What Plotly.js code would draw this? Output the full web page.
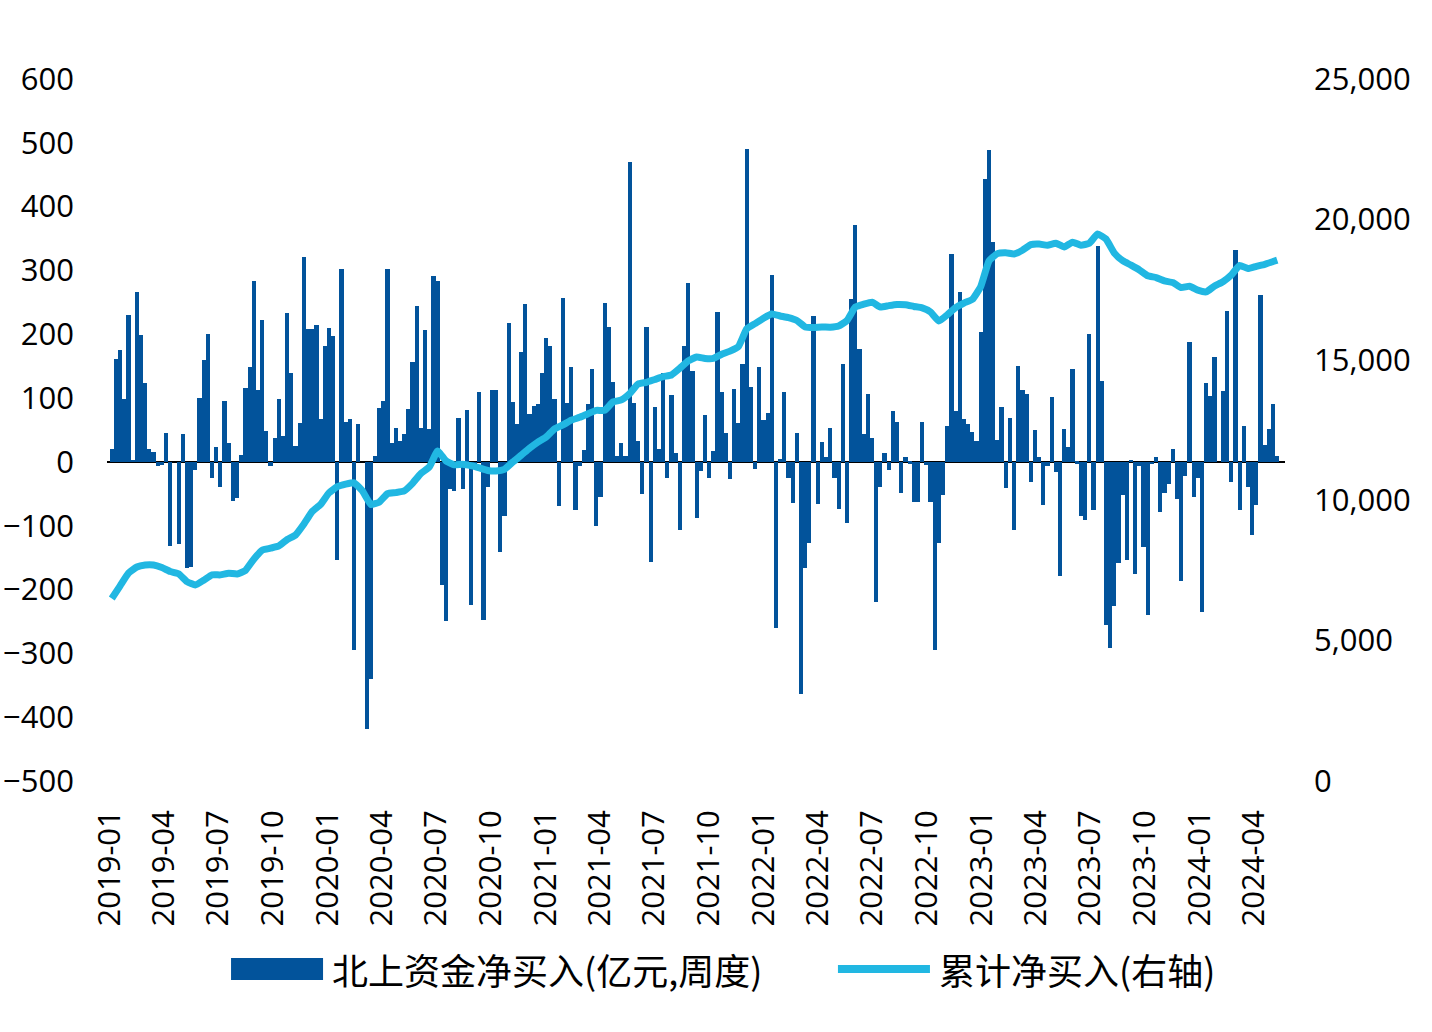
<!DOCTYPE html>
<html lang="zh">
  <head>
    <meta charset="UTF-8" />
    <title>北上资金净买入</title>
    <script src="https://cdn.plot.ly/plotly-3.0.1.min.js"></script>
    <style>
      body { margin: 0; background: #fff; }
      #myDiv { width: 1432px; height: 1032px; }
    </style>
  </head>
  <body>
    <div id="myDiv"></div>
    <script>
      // weekly net buy (亿元), one value per week starting 2019-01-04
      var flow2019 = [
        20, 161, 175, 99, 230, 2, 267, 199, 124, 20, 15, -7, -5,
        46, -131, 0, -128, 44, -167, -165, -13, 100, 160, 201, -25,
        23, -40, 96, 29, -61, -57, 11, 116, 148, 283, 113, 222, 48,
        -7, 38, 99, 40, 233, 139, 25, 61, 321, 209, 208, 215, 68
      ];
      var flow2020 = [
        182, 210, 198, -154, 303, 63, 68, -295, 59, 0, -418, -340, 9,
        84, 95, 303, 29, 53, 32, 44, 83, 157, 244, 53, 206, 52,
        291, 284, -193, -249, -42, -45, 69, -42, 81, -224, -5, 110, -247,
        -40, 113, 112, -141, -85, 217, 94, 59, 172, 248, 75, 88, 90
      ];
      var flow2021 = [
        139, 194, 182, 99, -69, 257, 92, 149, -76, -7, 19, 91, 146,
        -100, -55, 249, 212, 125, 9, 30, 9, 470, 92, 32, -51, 212,
        -157, 86, 21, 139, -25, 105, 14, -106, 182, 281, 143, -88, -15,
        73, -25, 17, 235, 110, 45, -27, 115, 61, 153, 491, 117, -11
      ];
      var flow2022 = [
        149, 65, 77, 293, -261, 5, 110, -25, -64, 45, -363, -166, -127,
        229, -66, 31, 8, 53, -25, -73, 153, -95, 255, 371, 177, 44,
        106, 38, -220, -39, 14, -13, 79, 62, -49, 7, -3, -63, -63,
        62, -5, -63, -295, -127, -52, 57, 326, 79, 266, 68, 59, 47
      ];
      var flow2023 = [
        32, 203, 444, 488, 344, 35, 86, -41, 69, -106, 151, 113, 107,
        -31, 50, 7, -67, -7, 102, -16, -178, 52, 23, 146, -3, -85,
        -91, 200, -75, 339, 127, -256, -291, -225, -158, -52, -153, 2, -175,
        -7, -133, -240, -4, 8, -79, -49, -34, 20, -58, -187, -22, 188
      ];
      var flow2024 = [
        -55, -25, -235, 123, 103, 164, 0, 111, 237, -31, 332, -76, 57,
        -40, -115, -67, 261, 26, 51, 90, 9
      ];
      var weeklyFlow = [].concat(flow2019, flow2020, flow2021, flow2022, flow2023, flow2024);

      // cumulative net buy (亿元, right axis), read every second week + last week
      var cumFlow = [
        6500, 6950, 7400, 7620, 7690, 7690, 7600, 7460, 7380, 7100,
        6980, 7150, 7340, 7340, 7400, 7370, 7500, 7900, 8220, 8290,
        8370, 8600, 8760, 9150, 9600, 9850, 10260, 10480, 10570, 10620,
        10330, 9850, 9930, 10230, 10270, 10330, 10600, 10950, 11180, 11750,
        11400, 11260, 11280, 11230, 11150, 11060, 11040, 11100, 11360, 11600,
        11850, 12070, 12250, 12540, 12680, 12850, 12950, 13080, 13200, 13200,
        13500, 13570, 13800, 14140, 14200, 14300, 14400, 14460, 14700, 14960,
        15100, 15050, 15050, 15200, 15310, 15470, 16100, 16290, 16480, 16630,
        16560, 16500, 16400, 16170, 16150, 16170, 16160, 16200, 16400, 16880,
        16980, 17050, 16880, 16930, 16970, 16960, 16900, 16850, 16700, 16380,
        16600, 16860, 17020, 17150, 17600, 18520, 18780, 18810, 18770, 18900,
        19100, 19120, 19080, 19150, 19020, 19190, 19080, 19150, 19480, 19300,
        18800, 18530, 18370, 18200, 17990, 17930, 17810, 17750, 17570, 17620,
        17480, 17420, 17630, 17780, 18020, 18360, 18250, 18330, 18400, 18500,
        18550
      ];

      var barName = "北上资金净买入(亿元,周度)";
      var lineName = "累计净买入(右轴)";
      var barColor = "#02539b";
      var lineColor = "#21b7e2";

      var start = Date.UTC(2019, 0, 4);
      var fmt = (t) => new Date(t).toISOString().slice(0, 10);
      var weekDates = weeklyFlow.map((v, i) => fmt(start + i * 7 * 86400000));
      var lineDates = weekDates.filter((d, i) => i % 2 === 0);
      lineDates.push(weekDates[weekDates.length - 1]);

      var tickFont = { family: "Open Sans, Lato, sans-serif", size: 31, color: "#000" };
      var legendFont = { family: "Noto Sans CJK SC, sans-serif", size: 36, color: "#000" };

      var data = [
        {
          type: "bar",
          name: barName,
          x: weekDates,
          y: weeklyFlow,
          marker: { color: barColor, line: { width: 0 } },
        },
        {
          type: "scatter",
          mode: "lines",
          name: lineName,
          x: lineDates,
          y: cumFlow,
          yaxis: "y2",
          line: { color: lineColor, width: 7, shape: "spline", smoothing: 0.4 },
        },
      ];

      // legend drawn by hand so the swatches can be as wide as the original
      var layout = {
        width: 1432,
        height: 1032,
        margin: { l: 107, r: 147, t: 79, b: 251 },
        paper_bgcolor: "#fff",
        plot_bgcolor: "#fff",
        bargap: 0,
        showlegend: false,
        xaxis: {
          type: "date",
          range: ["2018-12-27", "2024-05-23"],
          tick0: "2019-01-01",
          dtick: "M3",
          tickformat: "%Y-%m",
          tickangle: -90,
          tickfont: tickFont,
          showgrid: false,
          showline: false,
          zeroline: false,
          ticks: "",
          ticklabelstandoff: 22,
        },
        yaxis: {
          range: [-500, 600],
          dtick: 100,
          tickfont: tickFont,
          showgrid: false,
          zeroline: true,
          zerolinecolor: "#000",
          zerolinewidth: 2,
          showline: false,
          ticks: "",
          ticklabelstandoff: 32,
        },
        yaxis2: {
          overlaying: "y",
          side: "right",
          range: [0, 25000],
          dtick: 5000,
          tickformat: ",d",
          tickfont: tickFont,
          showgrid: false,
          zeroline: false,
          showline: false,
          ticks: "",
          ticklabelstandoff: 28,
        },
        shapes: [
          {
            type: "rect", xref: "paper", yref: "paper",
            x0: 0.1053, x1: 0.1834, y0: -0.2835, y1: -0.2521,
            fillcolor: barColor, line: { width: 0 },
          },
          {
            type: "line", xref: "paper", yref: "paper",
            x0: 0.6205, x1: 0.6986, y0: -0.2678, y1: -0.2678,
            line: { color: lineColor, width: 8 },
          },
        ],
        annotations: [
          {
            xref: "paper", yref: "paper", x: 0.1893, y: -0.2678,
            xanchor: "left", yanchor: "middle", showarrow: false,
            text: barName, font: legendFont,
          },
          {
            xref: "paper", yref: "paper", x: 0.7046, y: -0.2678,
            xanchor: "left", yanchor: "middle", showarrow: false,
            text: lineName, font: legendFont,
          },
        ],
      };

      Plotly.newPlot("myDiv", data, layout, { displayModeBar: false });
    </script>
  </body>
</html>
